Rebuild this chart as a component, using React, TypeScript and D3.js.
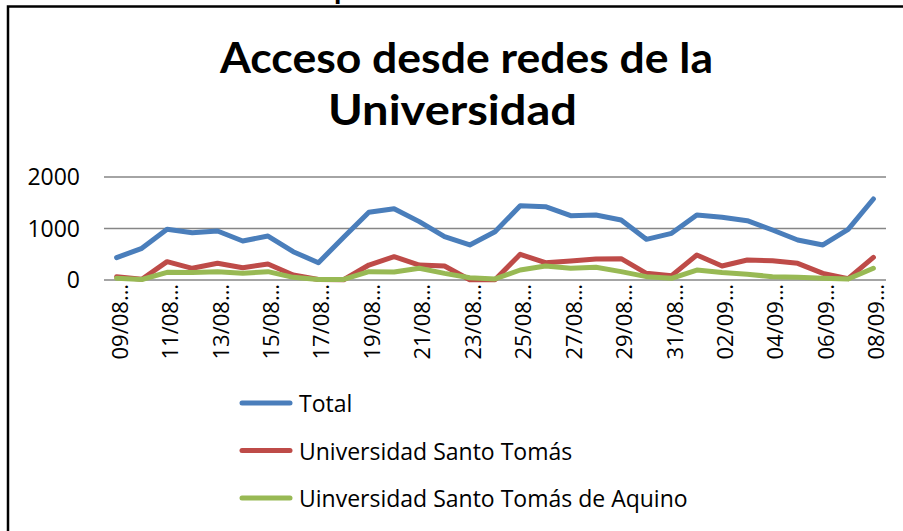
import React from "react";
import * as d3 from "d3";

const categories = [
  "09/08", "10/08", "11/08", "12/08", "13/08", "14/08", "15/08", "16/08",
  "17/08", "18/08", "19/08", "20/08", "21/08", "22/08", "23/08", "24/08",
  "25/08", "26/08", "27/08", "28/08", "29/08", "30/08", "31/08", "01/09",
  "02/09", "03/09", "04/09", "05/09", "06/09", "07/09", "08/09",
];

const total = [
  433, 615, 984, 919, 951, 757, 854, 550, 336, 829, 1314, 1385, 1133, 841,
  680, 938, 1443, 1424, 1249, 1262, 1165, 790, 906, 1262, 1217, 1152, 971,
  777, 680, 984, 1573,
];

const santoTomas = [
  65, 15, 356, 227, 324, 239, 311, 97, 10, 5, 291, 453, 291, 272,
  5, 5, 498, 336, 369, 408, 414, 129, 84, 485, 272, 388, 375,
  324, 129, 26, 440,
];

const santoTomasAquino = [
  32, 10, 149, 146, 162, 129, 162, 52, 10, 10, 162, 155, 227, 129,
  45, 20, 194, 272, 227, 246, 162, 65, 32, 194, 146, 110, 65,
  52, 32, 20, 227,
];

const yTicks = [0, 1000, 2000];

const seriesNames = [
  "Total",
  "Universidad Santo Tomás",
  "Uinversidad Santo Tomás de Aquino",
];
const seriesColors = ["#4A7EBB", "#BE4B48", "#98B954"];

const titleLines = ["Acceso desde redes de la", "Universidad"];

export default function App() {
  const W = 903;
  const H = 531;
  const left = 104;
  const right = 886;
  const x = d3
    .scalePoint<string>()
    .domain(categories)
    .range([left, right])
    .padding(0.5);
  const y = d3.scaleLinear().domain([0, 2000]).range([280, 177]);

  const series = [total, santoTomas, santoTomasAquino];
  const line = d3
    .line<number>()
    .x((_, i) => x(categories[i]) as number)
    .y((d) => y(d));

  const smallFont = "'Open Sans', 'DejaVu Sans', sans-serif";

  return (
    <svg
      width={W}
      height={H}
      style={{ position: "absolute", left: 0, top: 0, background: "#fff" }}
    >
      <rect x={0} y={0} width={W} height={H} fill="#fff" />
      {/* cut-off text above the frame */}
      <text
        x={334}
        y={-1}
        fontFamily="Lato, sans-serif"
        fontWeight="bold"
        fontSize={30}
        fill="#000"
      >
        p
      </text>
      {/* frame */}
      <path
        d={`M8,${H + 5} L8,6.5 L${W + 5},6.5`}
        fill="none"
        stroke="#000"
        strokeWidth={2.5}
      />
      {/* title */}
      <text
        x={466.5}
        y={73}
        textAnchor="middle"
        fontFamily="Lato, sans-serif"
        fontWeight="bold"
        fontSize={42}
        textLength={493}
        lengthAdjust="spacingAndGlyphs"
        fill="#000"
      >
        {titleLines[0]}
      </text>
      <text
        x={452.5}
        y={125}
        textAnchor="middle"
        fontFamily="Lato, sans-serif"
        fontWeight="bold"
        fontSize={42}
        textLength={249}
        lengthAdjust="spacingAndGlyphs"
        fill="#000"
      >
        {titleLines[1]}
      </text>
      {/* gridlines */}
      {yTicks.map((t) => (
        <g key={t}>
          <line
            x1={left}
            x2={right}
            y1={y(t)}
            y2={y(t)}
            stroke="#868686"
            strokeWidth={1.5}
          />
          <text
            x={80}
            y={y(t) + 8}
            textAnchor="end"
            fontFamily={smallFont}
            fontSize={23}
            fill="#000"
          >
            {t}
          </text>
        </g>
      ))}
      {/* x labels */}
      {categories.map((c, i) =>
        i % 2 === 0 ? (
          <text
            key={c}
            transform={`translate(${(x(c) as number) + 11},284) rotate(-90)`}
            textAnchor="end"
            fontFamily={smallFont}
            fontSize={22}
            fill="#000"
          >
            {c + "…"}
          </text>
        ) : null
      )}
      {/* lines */}
      {series.map((s, k) => (
        <path
          key={k}
          d={line(s) || ""}
          fill="none"
          stroke={seriesColors[k]}
          strokeWidth={5}
          strokeLinejoin="round"
          strokeLinecap="round"
        />
      ))}
      {/* legend */}
      {seriesNames.map((n, k) => {
        const ly = 403 + k * 47.5;
        return (
          <g key={n}>
            <line
              x1={242}
              x2={290}
              y1={ly}
              y2={ly}
              stroke={seriesColors[k]}
              strokeWidth={5}
              strokeLinecap="round"
            />
            <text
              x={299}
              y={ly + 9}
              fontFamily={smallFont}
              fontSize={23}
              fill="#000"
            >
              {n}
            </text>
          </g>
        );
      })}
    </svg>
  );
}
